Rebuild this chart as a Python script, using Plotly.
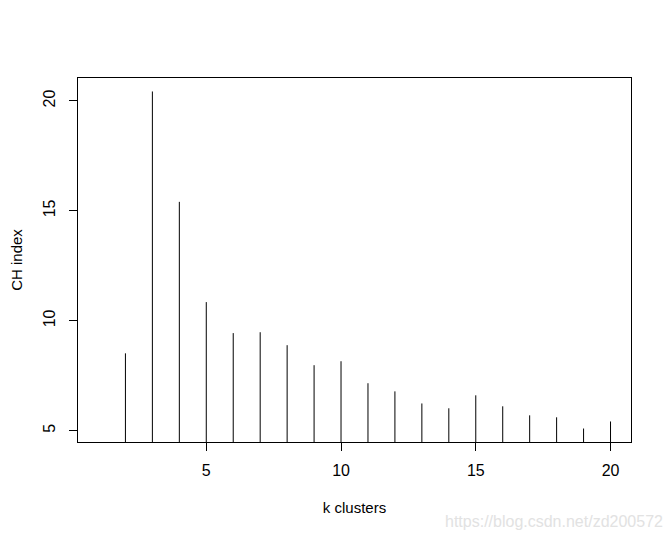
import plotly.graph_objects as go

# CH index for k = 2..20 clusters
k_clusters = list(range(2, 21))
ch_index = [8.52, 20.43, 15.41, 10.85, 9.44, 9.48, 8.89, 7.98, 8.16, 7.16,
            6.79, 6.24, 6.02, 6.61, 6.11, 5.70, 5.61, 5.10, 5.42]
x_ticks = [5, 10, 15, 20]
y_ticks = [5, 10, 15, 20]

# type="h" style: vertical line from 0 up to each value
xs, ys = [], []
for k, v in zip(k_clusters, ch_index):
    xs += [k, k, None]
    ys += [0, v, None]

lo, hi = min(ch_index), max(ch_index)
pad = 0.04 * (hi - lo)

fig = go.Figure(go.Scatter(x=xs, y=ys, mode="lines",
                           line=dict(color="black", width=1),
                           hoverinfo="skip", showlegend=False))

font = dict(family="Liberation Sans, Arial", size=16, color="black")
title_font = dict(family="Liberation Sans, Arial", size=15, color="black")

# page body has an 8px margin, so the figure is a bit smaller than the window
fig.update_layout(
    width=664, height=532,
    margin=dict(l=70, r=41, t=70, b=98),
    plot_bgcolor="white", paper_bgcolor="white",
    font=font,
    xaxis=dict(range=[0.24, 20.76], tickvals=x_ticks, showgrid=False, zeroline=False,
               showline=True, linecolor="black", linewidth=1, mirror=True,
               ticks="outside", ticklen=8, tickcolor="black", automargin=False,
               ticklabelstandoff=6,
               title=dict(text="k clusters", standoff=24, font=title_font)),
    yaxis=dict(range=[lo - pad, hi + pad], tickvals=y_ticks, showgrid=False, zeroline=False,
               showline=True, linecolor="black", linewidth=1, mirror=True,
               ticks="outside", ticklen=8, tickcolor="black", tickangle=-90,
               automargin=False, ticklabelstandoff=8,
               title=dict(text="CH index", standoff=33, font=title_font)),
)

fig.add_annotation(text="https://blog.csdn.net/zd200572", xref="paper", yref="paper",
                   x=1.061, y=-0.218, xanchor="right", yanchor="middle", showarrow=False,
                   font=dict(family="Liberation Sans, Arial", size=16, color="#e2e2e2"))

fig.write_html("out.html")
